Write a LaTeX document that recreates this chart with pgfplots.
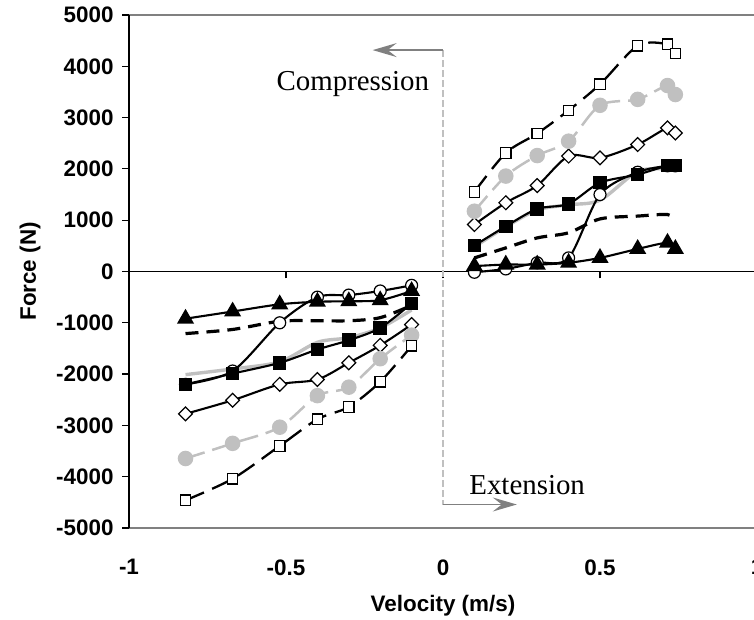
\documentclass[border=0pt]{standalone}
\usepackage{pgfplots}
\pgfplotsset{compat=1.18}
\usepackage{pgfplotstable}
\usepackage{fontspec}
\setmainfont{Liberation Sans}
\newfontfamily\serifann{Liberation Serif}
\usetikzlibrary{arrows.meta}

\definecolor{silver}{RGB}{192,192,192}
\definecolor{arrowgray}{RGB}{128,128,128}

% compression side (negative velocity)
\pgfplotstableread{
v      sq     gc     di     fs     gs     oc     tr    db
-0.82  -4460  -3645  -2775  -2200  -2010  -2200  -920  -1210
-0.67  -4040  -3350  -2510  -1990  -1900  -1940  -780  -1130
-0.52  -3400  -3035  -2200  -1780  -1760  -1000  -640  -970
-0.40  -2880  -2420  -2105  -1520  -1380  -500   -590  -960
-0.30  -2640  -2255  -1780  -1340  -1290  -460   -580  -960
-0.20  -2150  -1700  -1440  -1100  -1100  -380   -560  -900
-0.10  -1450  -1240  -1035  -620   -750   -270   -380  -660
}\leftdata

% extension side (positive velocity)
\pgfplotstableread{
v      sq     gc     di     fs     gs     oc     tr    db
0.10   1550   1175   915    505    480    -15    105   265
0.20   2310   1860   1340   880    870    50     135   460
0.30   2690   2260   1675   1220   1200   170    135   655
0.40   3140   2540   2250   1320   1300   265    170   755
0.50   3650   3240   2215   1730   1390   1500   265   1025
0.62   4400   3355   2475   1890   1950   1935   440   1080
0.715  4430   3625   2800   2065   2000   2060   560   1110
0.74   4250   3450   2700   2065   2000   2060   440   1000
}\rightdata

\pgfplotsset{
  frame/.style={
    at={(129bp,92bp)}, anchor=south west,
    scale only axis, width=628bp, height=513bp,
    xmin=-1, xmax=1, ymin=-5000, ymax=5000,
  },
  s-sq/.style={black, line width=2.3bp, dash pattern=on 20bp off 9bp, smooth,
    mark=square*, mark size=5.2bp,
    mark options={solid, fill=white, draw=black, line width=1.2bp}},
  s-gc/.style={silver, line width=2.5bp, dash pattern=on 20bp off 8bp, smooth,
    mark=*, mark size=6.5bp, mark options={solid, fill=silver, draw=silver}},
  s-di/.style={black, line width=2.1bp, smooth,
    mark=square*, mark size=4.9bp,
    mark options={solid, rotate=45, fill=white, draw=black, line width=1.2bp}},
  s-fs/.style={black, line width=2.1bp, smooth,
    mark=square*, mark size=5.7bp, mark options={solid, fill=black}},
  s-gs/.style={silver, line width=3.4bp, smooth, no markers},
  s-oc/.style={black, line width=2.1bp, smooth,
    mark=*, mark size=6bp,
    mark options={solid, fill=white, draw=black, line width=1.2bp}},
  s-tr/.style={black, line width=2.1bp, smooth,
    mark=triangle*, mark size=7.8bp, mark options={solid, fill=black}},
  s-db/.style={black, line width=3.2bp, dash pattern=on 13bp off 8bp, smooth, no markers},
}

\begin{document}
\begin{tikzpicture}

% x axis through zero, with its ticks
\begin{axis}[
  frame,
  axis x line=middle, axis y line=none,
  axis line style={-, black, line width=1.3bp},
  xtick={-1,-0.5,0,0.5,1}, xticklabels={},
  ytick=\empty,
  tick align=outside, major tick length=7bp,
  xtick style={black, line width=1.2bp},
]
\end{axis}

\begin{axis}[
  frame,
  separate axis lines,
  x axis line style={black!50, line width=1.3bp},
  y axis line style={black, line width=1.2bp},
  xtick={-1,-0.5,0,0.5,1},
  xticklabels={-1,-0.5,0,0.5,1},
  xtick style={draw=none},
  ytick={-5000,-4000,-3000,-2000,-1000,0,1000,2000,3000,4000,5000},
  yticklabels={-5000,-4000,-3000,-2000,-1000,0,1000,2000,3000,4000,5000},
  ytick pos=left,
  ytick style={black, line width=1.2bp},
  tick align=outside, major tick length=7bp,
  tick label style={font=\fontsize{22.5}{24}\selectfont\bfseries},
  xticklabel style={yshift=-21bp},
  yticklabel style={xshift=-5bp},
  xlabel={Velocity (m/s)},
  ylabel={Force (N)},
  every axis x label/.style={at={(axis cs:0,-5000)}, anchor=center, yshift=-78bp,
    font=\fontsize{22.5}{24}\selectfont\bfseries},
  every axis y label/.style={at={(axis cs:-1,0)}, xshift=-99bp, rotate=90, anchor=center,
    font=\fontsize{22.5}{24}\selectfont\bfseries},
]

% direction guide
\draw[silver, line width=1.5bp, dash pattern=on 7bp off 3bp]
  (axis cs:0,4316) -- (axis cs:0,-4542);
\draw[arrowgray, line width=1.6bp, -{Stealth[length=24bp, width=14bp, inset=9bp]}]
  (axis cs:0,4316) -- (axis cs:-0.224,4316);
\draw[arrowgray, line width=1.6bp, -{Stealth[length=24bp, width=14bp, inset=9bp]}]
  (axis cs:0,-4542) -- (axis cs:0.235,-4542);
\node[font=\serifann\fontsize{29}{31}\selectfont] at (axis cs:-0.287,3660) {Compression};
\node[font=\serifann\fontsize{29}{31}\selectfont] at (axis cs:0.268,-4170) {Extension};

\addplot[s-gs] table[x=v, y=gs] {\leftdata};
\addplot[s-gs] table[x=v, y=gs] {\rightdata};
\addplot[s-db] table[x=v, y=db] {\leftdata};
\addplot[s-db] table[x=v, y=db] {\rightdata};
\addplot[s-oc] table[x=v, y=oc] {\leftdata};
\addplot[s-oc] table[x=v, y=oc] {\rightdata};
\addplot[s-fs] table[x=v, y=fs] {\leftdata};
\addplot[s-fs] table[x=v, y=fs] {\rightdata};
\addplot[s-tr] table[x=v, y=tr] {\leftdata};
\addplot[s-tr] table[x=v, y=tr] {\rightdata};
\addplot[s-di] table[x=v, y=di] {\leftdata};
\addplot[s-di] table[x=v, y=di] {\rightdata};
\addplot[s-gc] table[x=v, y=gc] {\leftdata};
\addplot[s-gc] table[x=v, y=gc] {\rightdata};
\addplot[s-sq] table[x=v, y=sq] {\leftdata};
\addplot[s-sq] table[x=v, y=sq] {\rightdata};
\end{axis}

\pgfresetboundingbox
\useasboundingbox (0,0) rectangle (754bp,620bp);
\end{tikzpicture}
\end{document}
